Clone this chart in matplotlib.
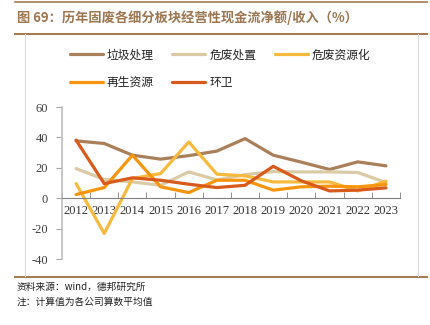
import matplotlib
matplotlib.use("Agg")
import matplotlib.pyplot as plt
from matplotlib.lines import Line2D
from matplotlib.ticker import FixedLocator, NullFormatter

plt.rcParams['font.family'] = ['Noto Sans CJK SC', 'DejaVu Sans']

years = ['2012', '2013', '2014', '2015', '2016', '2017',
         '2018', '2019', '2020', '2021', '2022', '2023']

series_names = ['垃圾处理', '危废处置', '危废资源化', '再生资源', '环卫']
waste_disposal = [37.7, 36.0, 28.3, 25.7, 28.0, 31.0, 39.2, 28.3, 23.7, 18.9, 23.9, 21.3]
hazardous_disposal = [19.5, 12.3, 10.7, 8.5, 17.3, 12.0, 15.5, 17.5, 17.3, 17.3, 16.9, 10.3]
hazardous_recycling = [9.6, -23.2, 13.0, 16.2, 37.0, 15.8, 14.7, 10.7, 10.7, 10.7, 4.8, 11.2]
renewable_resources = [2.4, 7.0, 28.3, 7.5, 3.7, 11.8, 11.8, 5.3, 7.5, 7.9, 7.5, 9.0]
sanitation = [38.2, 9.6, 13.4, 11.8, 9.2, 7.0, 8.5, 21.0, 11.4, 4.8, 5.3, 6.8]

y_ticks = [-40, -20, 0, 20, 40, 60]

colors = ['#A98059', '#DACBA6', '#F7BA3E', '#F7950F', '#D85A1C']
all_series = [waste_disposal, hazardous_disposal, hazardous_recycling,
              renewable_resources, sanitation]

W, H = 431, 325
fig = plt.figure(figsize=(W / 100, H / 100), dpi=100)

# page furniture: rules, frame and title
brown = '#A67C52'
def hline(y, x0, x1, color, lw):
    fig.add_artist(Line2D([x0 / W, x1 / W], [1 - y / H, 1 - y / H],
                          color=color, lw=lw, transform=fig.transFigure))
def vline(x, y0, y1, color, lw):
    fig.add_artist(Line2D([x / W, x / W], [1 - y0 / H, 1 - y1 / H],
                          color=color, lw=lw, transform=fig.transFigure))

hline(1.5, 15, 427, brown, 1.2)
hline(33.5, 15, 427, brown, 1.5)
hline(276.5, 15, 427, brown, 1.5)
vline(25, 34, 276, '#DCDCDC', 0.8)
vline(418, 34, 276, '#DCDCDC', 0.8)

fig.text(17 / W, 1 - 18 / H, '图 69：历年固废各细分板块经营性现金流净额/收入（%）',
         fontsize=9.5, fontweight='bold', color='#9C7651', va='center', ha='left')
fig.text(17 / W, 1 - 287 / H, '资料来源：wind，德邦研究所',
         fontsize=7, color='#222222', va='center', ha='left')
fig.text(17 / W, 1 - 302 / H, '注：计算值为各公司算数平均值',
         fontsize=7, color='#222222', va='center', ha='left')

# plotting area
left, right, top, bottom = 62, 400, 107, 259
ax = fig.add_axes([left / W, 1 - bottom / H, (right - left) / W, (bottom - top) / H])
x = list(range(len(years)))
handles = []
for name, vals, c in zip(series_names, all_series, colors):
    ln, = ax.plot(x, vals, color=c, lw=2.3, label=name, solid_capstyle='round',
                  solid_joinstyle='round')
    handles.append(ln)

ax.set_xlim(-0.5, len(years) - 0.5)
ax.set_ylim(-40, 60)
ax.set_yticks(y_ticks)
ax.set_yticklabels([str(v) for v in y_ticks])
ax.set_xticks(x)
ax.set_xticklabels(years)
ax.xaxis.set_minor_locator(FixedLocator([i - 0.5 for i in range(len(years) + 1)]))
ax.xaxis.set_minor_formatter(NullFormatter())
ax.tick_params(axis='x', which='major', length=0, pad=5,
               labelfontfamily='Liberation Serif', labelsize=9, labelcolor='#333333')
ax.tick_params(axis='x', which='minor', length=4, direction='in', color='#808080')
ax.tick_params(axis='y', length=4, direction='out', color='#A6A6A6', pad=6,
               labelfontfamily='Liberation Serif', labelsize=9, labelcolor='#404040')

for s in ['top', 'right']:
    ax.spines[s].set_visible(False)
ax.spines['bottom'].set_position(('data', 0))
ax.spines['bottom'].set_color('#808080')
ax.spines['left'].set_color('#BFBFBF')
ax.spines['left'].set_linewidth(1.2)
ax.patch.set_alpha(0)

# legend filled column by column, so order entries to read row by row
order = [0, 3, 1, 4, 2]
fig.legend([handles[i] for i in order], [series_names[i] for i in order],
           ncol=3, frameon=False,
           loc='upper left', bbox_to_anchor=(59 / W, 1 - 38 / H),
           fontsize=8.5, handlelength=2.8, handletextpad=0.35,
           columnspacing=1.55, labelspacing=1.2,
           labelcolor='#222222')

fig.savefig('out.png', dpi=100)
